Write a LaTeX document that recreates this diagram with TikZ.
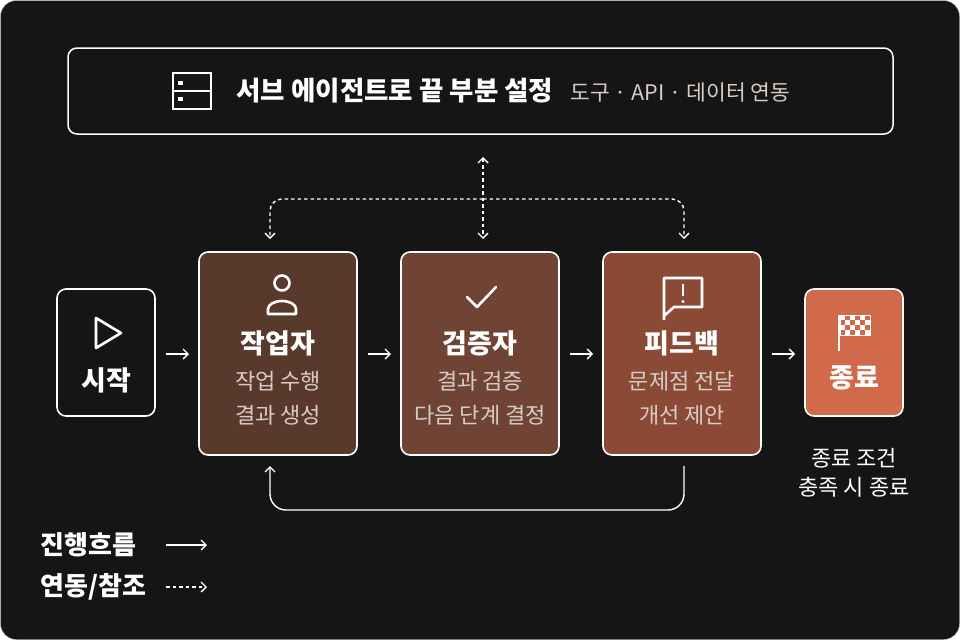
\documentclass[tikz,border=0pt]{standalone}
\usepackage{fontspec}
\setmainfont{Noto Sans CJK KR}
\usetikzlibrary{arrows.meta}
\definecolor{bg}{HTML}{151515}
\definecolor{cw}{HTML}{5A392D}
\definecolor{cv}{HTML}{6F4434}
\definecolor{cf}{HTML}{8A4A36}
\definecolor{ce}{HTML}{D06A4B}
\definecolor{sub}{HTML}{D8CCC6}
\begin{document}
\begin{tikzpicture}[x=1pt,y=-1pt,
  box/.style={draw=white,line width=1.6pt,rounded corners=9pt},
  ttl/.style={text=white,font=\fontsize{27}{30}\selectfont\bfseries},
  st/.style={text=sub,font=\fontsize{22}{26}\selectfont},
  fl/.style={draw=white,line width=1.4pt,-{Straight Barb[length=5pt,width=10pt]}},
  dt/.style={draw=white,line width=1.4pt,dash pattern=on 3.5pt off 3pt,-{Straight Barb[length=5pt,width=10pt]}},
  ic/.style={draw=white,line width=2.6pt}]
\useasboundingbox (0,0) rectangle (960,640);
\fill[bg,draw=gray!60,rounded corners=16pt] (0.5,0.5) rectangle (959.5,639.5);
% top bar
\draw[box,line width=1.5pt] (68,48) rectangle (893,134);
\draw[ic] (173,73) rectangle (211,109); \draw[ic] (173,91)--(211,91);
\fill[white] (178,81) rectangle (183,85); \fill[white] (178,97) rectangle (183,101);
\node[anchor=west,text=white,font=\fontsize{26.5}{30}\selectfont\bfseries] (title) at (233,91) {서브 에이전트로 끝 부분 설정};
\node[anchor=west,text=sub,font=\fontsize{21.5}{24}\selectfont] (titlesub) at (567,92) {도구 · API · 데이터 연동};
% boxes
\draw[box] (57,289) rectangle (155,416);
\draw[box,fill=cw] (199,252) rectangle (357,455);
\draw[box,fill=cv] (401,252) rectangle (559,455);
\draw[box,fill=cf] (603,252) rectangle (761,455);
\draw[box,fill=ce] (805,289) rectangle (903,416);
% icons
\draw[ic,line join=round] (96,318)--(96,348)--(121,333)--cycle;
\draw[ic] (282,283) circle (7.5);
\draw[ic,line join=round] (268,314) -- (268,309) arc (180:360:14 and 8) -- (296,314) -- cycle;
\draw[ic,line cap=round,line join=round] (467,297)--(477,307)--(496,287);
\draw[ic,line join=round] (664,320)--(664,278)--(702,278)--(702,307)--(674,307)--(664,316);
\draw[white,line width=2.8pt] (683,284)--(683,296); \fill[white] (683,301.5) circle (1.7);
% flag
\draw[white,line width=2pt] (839,315)--(839,351);
\foreach \i in {0,...,5}{\foreach \j in {0,...,3}{
 \pgfmathtruncatemacro{\myodd}{mod(\i+\j,2)}
 \ifnum\myodd=0 \fill[white] ({840+\i*5},{315+\j*5}) rectangle ++(5,5);\fi}}
\draw[white,line width=1pt] (840,315) rectangle (870,335);
% texts
\node[ttl] (ts) at (106,380) {시작};
\node[ttl] (tw) at (278,343) {작업자};
\node[st] at (278,381) {작업 수행};
\node[st] at (278,415) {결과 생성};
\node[ttl] (tv) at (480,343) {검증자};
\node[st] at (480,381) {결과 검증};
\node[st] at (480,415) {다음 단계 결정};
\node[ttl] (tf) at (682,343) {피드백};
\node[st] at (682,381) {문제점 전달};
\node[st] at (682,415) {개선 제안};
\node[ttl] (te) at (854,378) {종료};
\node[text=white,font=\fontsize{22}{26}\selectfont] at (854,458) {종료 조건};
\node[text=white,font=\fontsize{22}{26}\selectfont] at (854,487) {충족 시 종료};
% flow arrows
\draw[fl] (166,354)--(189,354);
\draw[fl] (368,354)--(391,354);
\draw[fl] (570,354)--(593,354);
\draw[fl] (772,354)--(795,354);
% dotted
\draw[dt,{Straight Barb[length=5pt,width=10pt]}-{Straight Barb[length=5pt,width=10pt]}] (483,157)--(483,239);
\draw[dt,rounded corners=12pt] (483,199)--(270,199)--(270,239);
\draw[dt,rounded corners=12pt] (483,199)--(684,199)--(684,239);
% return
\draw[fl,rounded corners=16pt] (684,466)--(684,510)--(270,510)--(270,466);
% legend
\node[anchor=west,ttl,font=\fontsize{26}{30}\selectfont\bfseries] (l1) at (37,545) {진행흐름};
\draw[fl] (166,545)--(207,545);
\node[anchor=west,ttl,font=\fontsize{26}{30}\selectfont\bfseries] (l2) at (37,587) {연동/참조};
\draw[dt] (166,587)--(207,587);
\end{tikzpicture}
\end{document}
